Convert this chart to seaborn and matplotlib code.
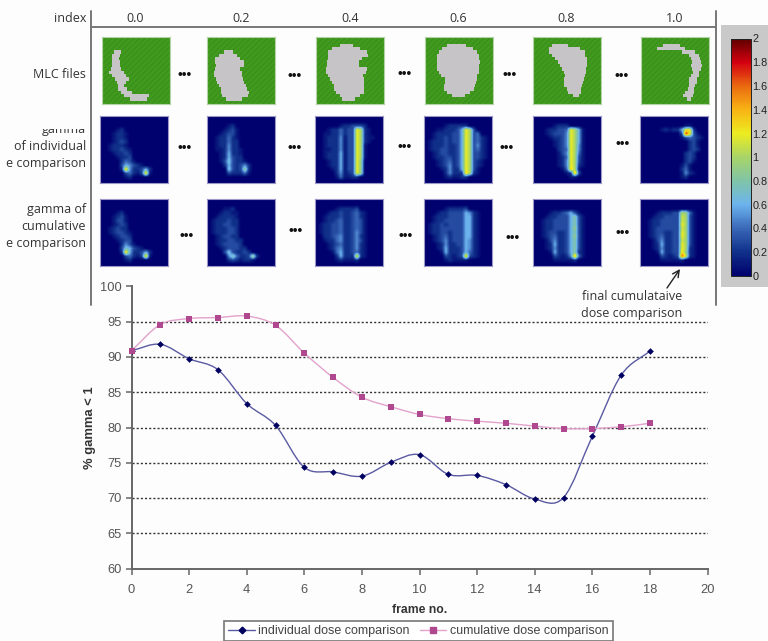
import numpy as np
import pandas as pd
import seaborn as sns
import matplotlib
matplotlib.use('Agg')
import matplotlib.pyplot as plt
from matplotlib.colors import LinearSegmentedColormap, Normalize
from matplotlib.cm import ScalarMappable
from matplotlib.lines import Line2D
from matplotlib.patches import PathPatch, Rectangle
from matplotlib.path import Path

W, H = 768, 641

### line chart values
frames = list(range(19))
individual = [90.9, 91.8, 89.75, 88.2, 83.4, 80.3, 74.35, 73.7, 73.1, 75.05,
              76.15, 73.35, 73.2, 71.9, 69.85, 70.05, 78.75, 87.4, 90.85]
cumulative = [90.9, 94.6, 95.45, 95.6, 95.8, 94.5, 90.55, 87.1, 84.3, 82.95,
              81.85, 81.25, 80.9, 80.6, 80.2, 79.85, 79.85, 80.1, 80.6]
series_names = ['individual dose comparison', 'cumulative dose comparison']
yticks = [60, 65, 70, 75, 80, 85, 90, 95, 100]
xticks = [0, 2, 4, 6, 8, 10, 12, 14, 16, 18, 20]

### header and colorbar labels
index_labels = ['0.0', '0.2', '0.4', '0.6', '0.8', '1.0']
cbar_ticks = [0, 0.2, 0.4, 0.6, 0.8, 1, 1.2, 1.4, 1.6, 1.8, 2]
cbar_labels = ['0', '0.2', '0.4', '0.6', '0.8', '1', '1.2', '1.4', '1.6', '1.8', '2']

### MLC openings, (left, right) in percent of field width, one pair per leaf row
mlc_00 = [(0, 0), (0, 0), (0, 0), (0, 0), (18, 28), (15, 26), (14, 25), (15, 27), (15, 27), (13, 28),
          (11, 32), (15, 36), (19, 39), (22, 36), (24, 33), (24, 37), (28, 44), (33, 69), (41, 66), (0, 0)]
mlc_02 = [(0, 0), (0, 0), (0, 0), (0, 0), (25, 38), (17, 44), (12, 48), (12, 54), (13, 54), (12, 49),
          (11, 52), (10, 52), (13, 53), (15, 54), (18, 57), (20, 59), (21, 62), (22, 61), (28, 52), (0, 0)]
mlc_04 = [(0, 0), (0, 0), (35, 55), (23, 65), (18, 75), (18, 77), (17, 67), (16, 63), (16, 63), (14, 75),
          (15, 73), (18, 69), (21, 70), (24, 71), (26, 71), (27, 70), (29, 71), (35, 65), (38, 57), (0, 0)]
mlc_06 = [(0, 0), (0, 0), (32, 61), (25, 71), (20, 77), (18, 80), (18, 80), (18, 81), (18, 80), (18, 79),
          (20, 79), (23, 77), (30, 76), (30, 75), (28, 74), (28, 72), (33, 66), (39, 59), (0, 0), (0, 0)]
mlc_08 = [(0, 0), (0, 0), (28, 52), (23, 69), (23, 77), (28, 77), (33, 79), (37, 79), (40, 79), (42, 78),
          (45, 78), (47, 77), (45, 75), (45, 74), (46, 72), (50, 70), (52, 70), (59, 68), (0, 0), (0, 0)]
mlc_10 = [(0, 0), (0, 0), (33, 58), (23, 65), (60, 80), (70, 85), (74, 87), (75, 88), (74, 90), (75, 88),
          (77, 86), (74, 85), (70, 82), (70, 82), (70, 80), (69, 78), (65, 78), (62, 77), (67, 73), (0, 0)]
mlc_panels = [mlc_00, mlc_02, mlc_04, mlc_06, mlc_08, mlc_10]

### gamma maps, one character per coarse cell, base 20, in tenths of gamma
ind_00 = ["", "", "", "000012", "00012210", "00012210", "00012320", "00122210", "00122321", "00012232",
          "00001223", "000002431", "00000365321", "000002d522362", "00000034213d1", "00000012"]
ind_02 = ["", "", "0000012", "00001231", "00012331", "00122421", "00122422", "00122522", "001125221",
          "000126221", "000126322", "0001373221", "00002632352", "00000732392", "00000322241"]
ind_04 = ["", "", "0000001223332", "0001224233ca21", "0011224233ca21", "0012225133ca211", "0012225133ca21",
          "0012225133ca1", "0011225133ca1", "0012226133ca1", "0012226133ca1", "0001226133c9",
          "0001226133c9", "0000126133c9", "0000025123c9", "00000141122"]
ind_06 = ["", "", "00000122222", "0001122236ca3", "0012222336ca34", "0012232336ca3421",
          "0122232336ca3421", "0122232236ca3521", "0122332236ca3421", "0012332236ca3321", "0012233236ca3321",
          "0001234236ca321", "0001235236ca321", "0000125226ca31", "0000025222da21", "00000121122"]
ind_08 = ["", "", "000001222", "000122334ca61", "000123335ca61", "000012235ca61", "000001235ca61",
          "000001235ca51", "000000234ca51", "000000135ca41", "000000124ca31",
          "000000125ca31", "000000125ca21", "000000014da1", "0000000012e3", "00000000011"]
ind_10 = ["", "", "00000000000110", "00000121226cc2", "00000000003hc31", "0000000000134321", "000000000000231",
          "000000000000231", "000000000000232", "00000000000232", "00000000000232", "00000000000231",
          "0000000000131", "0000000000241", "00000000001521", "000000000012"]
cum_00 = ["", "", "", "000012", "00012310", "00013310", "00012320", "00123220", "00123321", "00012332",
          "00001233", "000002531", "00000376321", "000002d622362", "00000034213d1", "00000012"]
cum_02 = ["", "", "0000112", "00012211", "00122221", "01222322", "01223322", "01222332", "01222332",
          "00123322", "001223322", "001233332", "0001233322", "00003732232", "00000584223a2", "000002321221"]
cum_04 = ["", "", "00000122223", "0001223223421", "0012223223421", "0012234223431", "0122334223431",
          "0122334223431", "0122334223531", "0022345223521", "0012245223531", "0001234223521",
          "0001245223521", "0000146223421", "0000026222c21", "00000121112"]
cum_06 = ["", "", "00000122223", "00012233336521", "00122233336621", "00122333336621", "01223233336621",
          "01223333336621", "01223323336621", "00123423336621", "00123523336521", "00012522336521",
          "00012622236521", "00001622236421", "0000032123d321", "00000121111"]
cum_08 = ["", "", "", "000012234631", "0001223336831", "0012233336831", "0012233336831", "0012233336931",
          "0012332236831", "0012342236931", "0001352236831", "0001262236831", "0001252236831",
          "0000162236821", "0000032125e41", "00000111112"]
cum_10 = ["", "", "", "0000122233a941", "0001223333ba31", "0012233333ba31", "0012233333ca31", "0012333333ba31",
          "0012332233ca31", "0012342233ca31", "0001352233ba31", "0001262233ca31", "0001252233ca21",
          "0000162233d921", "0000032123gb21", "00000111112"]
ind_panels = [ind_00, ind_02, ind_04, ind_06, ind_08, ind_10]
cum_panels = [cum_00, cum_02, cum_04, cum_06, cum_08, cum_10]

### gamma colormap
gamma_colors = ['#00006e', '#10308a', '#3a68b8', '#6cb4ee', '#80c4a8', '#a8d468',
                '#ecec20', '#f8b414', '#ea6a10', '#d40010', '#5e0000']


def px_axes(fig, x0, y0, x1, y1, **kw):
    # axes from pixel box, y measured from top of image
    return fig.add_axes([x0 / W, 1 - y1 / H, (x1 - x0) / W, (y1 - y0) / H], **kw)


def gamma_grid(rows, n=17):
    grid = np.zeros((n, n))
    for r, row in enumerate(rows):
        for c, ch in enumerate(row):
            grid[r, c] = int(ch, 20) / 10
    return grid


def smooth_path(x, y):
    # bezier through the points, the way the spreadsheet smooths its lines
    verts = [(x[0], y[0])]
    codes = [Path.MOVETO]
    n = len(x)
    for i in range(n - 1):
        dy0 = (y[i + 1] - y[max(i - 1, 0)]) / (i + 1 - max(i - 1, 0))
        dy1 = (y[min(i + 2, n - 1)] - y[i]) / (min(i + 2, n - 1) - i)
        verts += [(x[i] + 1 / 3, y[i] + dy0 / 3), (x[i + 1] - 1 / 3, y[i + 1] - dy1 / 3), (x[i + 1], y[i + 1])]
        codes += [Path.CURVE4] * 3
    return Path(verts, codes)


sns.set_theme(style='white')
plt.rcParams['font.family'] = ['Liberation Sans', 'DejaVu Sans']
plt.rcParams['hatch.linewidth'] = 0.5

fig = plt.figure(figsize=(7.68, 6.41), dpi=100, facecolor='#fdfdfd')

### line chart
ax = px_axes(fig, 131.5, 286.5, 707.5, 568.5)
ax.set_facecolor('none')
df = pd.DataFrame({
    'frame': frames + frames,
    'gamma': individual + cumulative,
    'series': [series_names[0]] * len(frames) + [series_names[1]] * len(frames),
})
# markers only here, the smoothed lines go on as paths below
sns.lineplot(data=df[df.series == series_names[0]], x='frame', y='gamma', ax=ax, color='#000060', marker='D',
             linewidth=0, markersize=3.4, markeredgewidth=0, clip_on=False, zorder=4)
sns.lineplot(data=df[df.series == series_names[1]], x='frame', y='gamma', ax=ax, color='#b0488f', marker='s',
             linewidth=0, markersize=4.4, markeredgewidth=0, clip_on=False, zorder=4)
ax.add_patch(PathPatch(smooth_path(frames, individual), fill=False, edgecolor='#5a5aa2', lw=1.0, zorder=3))
ax.add_patch(PathPatch(smooth_path(frames, cumulative), fill=False, edgecolor='#e2a2cc', lw=1.0, zorder=3))
ax.set_xlim(0, 20)
ax.set_ylim(60, 100)
ax.set_xticks(xticks)
ax.set_yticks(yticks)
for v in yticks[1:-1]:
    ax.axhline(v, color='#333333', lw=1, ls=(0, (1.5, 1.5)), zorder=1)
sns.despine(ax=ax)
for s in ['left', 'bottom']:
    ax.spines[s].set_color('#666666')
    ax.spines[s].set_linewidth(1.4)
ax.tick_params(axis='both', left=True, bottom=True, length=4, width=1.1, color='#666666',
               labelsize=9.3, labelcolor='#555555', pad=3)
ax.tick_params(axis='x', pad=7)
ax.set_xlabel('frame no.', fontsize=8.8, fontweight='bold', color='#333333', labelpad=6)
ax.set_ylabel('% gamma < 1', fontsize=9.4, fontweight='bold', color='#333333', labelpad=3)

handles = [Line2D([], [], color='#5a5aa2', lw=1.0, marker='D', ms=3.4, mfc='#000060', mec='#000060'),
           Line2D([], [], color='#e2a2cc', lw=1.0, marker='s', ms=4.4, mfc='#b0488f', mec='#b0488f')]
leg = fig.legend(handles, series_names, ncol=2, loc='center', bbox_to_anchor=(418.5 / W, 1 - 631 / H),
                 fontsize=9, frameon=True, fancybox=False, edgecolor='#777777', facecolor='white', framealpha=1,
                 handlelength=2.1, columnspacing=0.8, handletextpad=0.3, borderpad=0.35, labelcolor='#444444')
leg.get_frame().set_linewidth(1.2)

### MLC row
gray_cmap = LinearSegmentedColormap.from_list('mlc', ['#c6c4c6', '#c6c4c6'])
mlc_x = [102, 207, 316, 425, 533, 641]
for x0, rows in zip(mlc_x, mlc_panels):
    pax = px_axes(fig, x0, 37, x0 + 68, 104)
    grid = np.zeros((len(rows), 100))
    for r, (left, right) in enumerate(rows):
        grid[r, left:right] = 1
    pax.add_patch(Rectangle((0, 0), 100, len(rows), facecolor='#419a1e', edgecolor='#358a1c',
                            hatch='//////', lw=0, zorder=0.5))
    sns.heatmap(grid, mask=grid == 0, cmap=gray_cmap, vmin=0, vmax=1, cbar=False, ax=pax,
                xticklabels=False, yticklabels=False)
    for s in pax.spines.values():
        s.set_visible(True)
        s.set_color('#b4d4a8')
        s.set_linewidth(0.8)

### gamma rows
gamma_cmap = LinearSegmentedColormap.from_list('gamma', gamma_colors, N=256)
gamma_norm = Normalize(0, 2)
gamma_x = [100, 207, 315, 424, 533, 640]
for y0, panels in zip([116, 199], [ind_panels, cum_panels]):
    for x0, rows in zip(gamma_x, panels):
        pax = px_axes(fig, x0, y0, x0 + 68, y0 + 67)
        pax.imshow(gamma_grid(rows), cmap=gamma_cmap, norm=gamma_norm, interpolation='bilinear', aspect='auto')
        pax.set_xticks([])
        pax.set_yticks([])
        for s in pax.spines.values():
            s.set_visible(True)
            s.set_color('#9c98c8')
            s.set_linewidth(0.8)

### colorbar on its gray card
over = px_axes(fig, 0, 0, W, H, zorder=5)
over.set_xlim(0, W)
over.set_ylim(H, 0)
over.axis('off')
over.patch.set_visible(False)
over.add_patch(Rectangle((721, 25), 47, 262, facecolor='#c9c9c9', edgecolor='none', zorder=1))

cax = px_axes(fig, 731, 38.5, 751, 276, zorder=6)
cb = fig.colorbar(ScalarMappable(norm=gamma_norm, cmap=gamma_cmap), cax=cax, ticks=cbar_ticks)
cb.ax.set_yticklabels(cbar_labels)
cb.ax.tick_params(length=3, width=0.6, direction='in', labelsize=7.8, labelcolor='#222222', color='#222222', pad=1)
cb.outline.set_edgecolor('#222222')
cb.outline.set_linewidth(0.7)

### frame lines round the thumbnails
frame_color = '#777777'
over.plot([91, 91], [11, 305], color=frame_color, lw=1.4, zorder=2)
over.plot([716, 716], [11, 305], color=frame_color, lw=1.4, zorder=2)
over.plot([91, 716], [27, 27], color=frame_color, lw=1.4, zorder=2)

### text around thumbnails
thumb_font = ['Open Sans', 'DejaVu Sans']
clip = Rectangle((0, 129), 99, 10, transform=over.transData)
side_labels = [('index', 18), ('MLC files', 74), ('gamma', 130), ('of individual', 147), ('e comparison', 163),
               ('gamma of', 210), ('cumulative', 227), ('e comparison', 244)]
for label, y in side_labels:
    t = over.text(86, y, label, ha='right', va='center', fontsize=9, color='#333333', family=thumb_font, zorder=3)
    if y == 130:
        # top of this word is cut in the source picture
        t.set_clip_path(clip)
        t.set_clip_on(True)
for x, label in zip([135, 241, 350, 458, 566, 675], index_labels):
    over.text(x, 18, label, ha='center', va='center', fontsize=9, color='#333333', family=thumb_font, zorder=3)

### dots between thumbnails
dot_x = [[185, 295, 405, 510, 622], [185, 295, 405, 507, 623], [187, 296, 406, 513, 623]]
dot_y = [[75, 76, 74, 75, 76], [148, 148, 147, 148, 144], [236, 231, 236, 238, 233]]
for xs, ys in zip(dot_x, dot_y):
    for x, y in zip(xs, ys):
        over.text(x, y, '•••', ha='center', va='center', fontsize=10, color='#111111', zorder=3)

### annotation
over.annotate('', xy=(680, 269), xytext=(667, 288), zorder=3,
              arrowprops=dict(arrowstyle='->', color='#222222', lw=1, shrinkA=0, shrinkB=0))
over.text(632, 297, 'final cumulataive', ha='center', va='center', fontsize=9, color='#333333',
          family=thumb_font, zorder=3)
over.text(632, 313, 'dose comparison', ha='center', va='center', fontsize=9, color='#333333',
          family=thumb_font, zorder=3)

fig.savefig('out.png', dpi=100, facecolor=fig.get_facecolor())
